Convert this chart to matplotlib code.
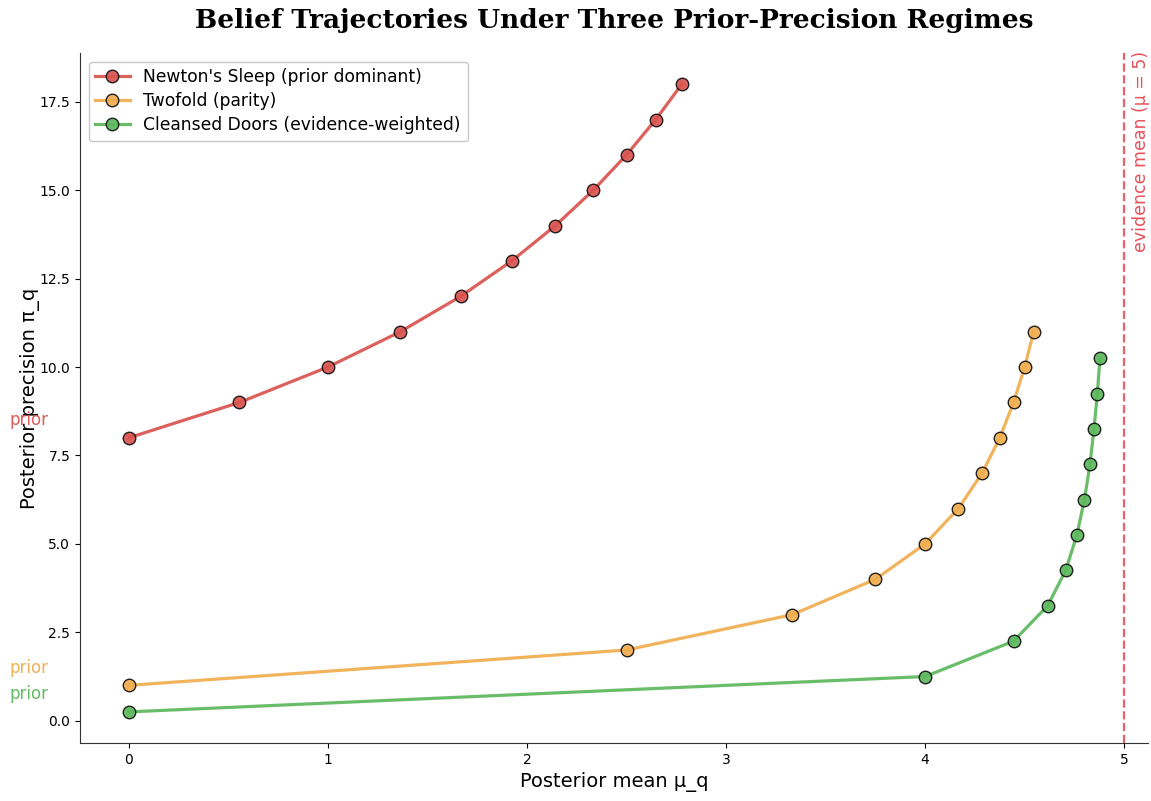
import matplotlib
matplotlib.use("Agg")
import matplotlib.pyplot as plt

# Data
newton_mu = [0.0, 0.556, 1.0, 1.364, 1.667, 1.923, 2.143, 2.333, 2.5, 2.647, 2.778]
newton_pi = [8, 9, 10, 11, 12, 13, 14, 15, 16, 17, 18]
twofold_mu = [0.0, 2.5, 3.333, 3.75, 4.0, 4.167, 4.286, 4.375, 4.444, 4.5, 4.545]
twofold_pi = [1, 2, 3, 4, 5, 6, 7, 8, 9, 10, 11]
cleansed_mu = [0.0, 4.0, 4.444, 4.615, 4.706, 4.762, 4.8, 4.828, 4.848, 4.865, 4.878]
cleansed_pi = [0.25, 1.25, 2.25, 3.25, 4.25, 5.25, 6.25, 7.25, 8.25, 9.25, 10.25]
labels = ["Newton's Sleep (prior dominant)", "Twofold (parity)", "Cleansed Doors (evidence-weighted)"]
colors = ["#d9534f", "#f0ad4e", "#5cb85c"]
evidence_mean = 5

fig = plt.figure(figsize=(11.51, 8.01), dpi=100)
ax = fig.add_axes([0.0695, 0.0724, 0.928, 0.8614])

series = [(newton_mu, newton_pi), (twofold_mu, twofold_pi), (cleansed_mu, cleansed_pi)]
for (mu, pi), lab, c in zip(series, labels, colors):
    ax.plot(mu, pi, '-o', color=c, lw=2.3, alpha=0.92, markersize=9, markerfacecolor=c,
            markeredgecolor='#111111', markeredgewidth=1.0, label=lab, zorder=3)
    ax.text(-0.5, pi[0] + 0.5, "prior", color=c, fontsize=12, ha='center', va='center',
            clip_on=False, alpha=0.95)

ax.axvline(evidence_mean, color='#e8505b', ls='--', lw=1.6, alpha=0.9, zorder=2)
ax.text(evidence_mean + 0.085, 18.93, "evidence mean (μ = 5)", rotation=90, color='#e8505b',
        fontsize=12.5, ha='center', va='top')

ax.set_xlim(-0.245, 5.12)
ax.set_ylim(-0.63, 18.88)
ax.set_yticks([0, 2.5, 5, 7.5, 10, 12.5, 15, 17.5])
ax.set_yticklabels(["0.0", "2.5", "5.0", "7.5", "10.0", "12.5", "15.0", "17.5"])
ax.spines['top'].set_visible(False)
ax.spines['right'].set_visible(False)
for s in ['left', 'bottom']:
    ax.spines[s].set_color('#333333')
ax.tick_params(labelsize=10)

ax.set_xlabel("Posterior mean μ_q", fontsize=14)
ax.set_ylabel("Posterior precision π_q", fontsize=14, labelpad=0)
ax.set_title("Belief Trajectories Under Three Prior-Precision Regimes", fontsize=19,
             fontweight='bold', family='DejaVu Serif', pad=18)

ax.legend(loc='upper left', fontsize=12.3, frameon=True, edgecolor='#bbbbbb',
          borderaxespad=0.5, handlelength=2, labelspacing=0.35)

fig.savefig("out.png", dpi=100)
